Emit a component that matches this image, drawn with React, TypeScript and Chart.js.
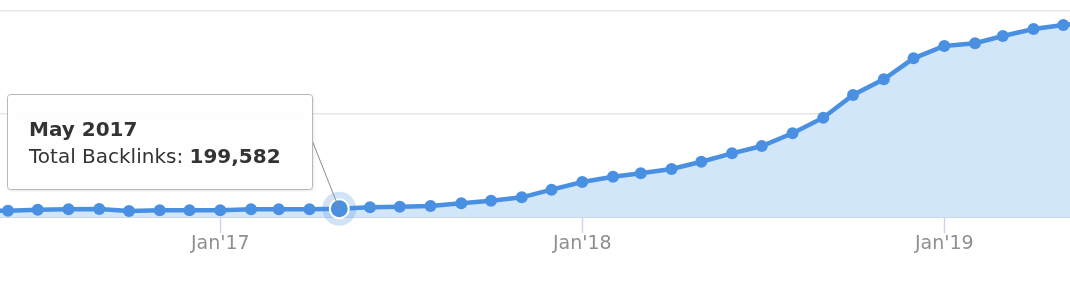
import React, { useEffect, useRef } from 'react';
import { Chart, registerables } from 'chart.js';

Chart.register(...registerables);

// ---- Data ----
const months = [
  '2016-05', '2016-06', '2016-07', '2016-08', '2016-09', '2016-10', '2016-11', '2016-12',
  '2017-01', '2017-02', '2017-03', '2017-04', '2017-05', '2017-06', '2017-07', '2017-08',
  '2017-09', '2017-10', '2017-11', '2017-12',
  '2018-01', '2018-02', '2018-03', '2018-04', '2018-05', '2018-06', '2018-07', '2018-08',
  '2018-09', '2018-10', '2018-11', '2018-12',
  '2019-01', '2019-02', '2019-03', '2019-04', '2019-05', '2019-06',
];

const backlinks = [
  150000, 153000, 177000, 187000, 194000, 146000, 163000, 163000,
  163000, 187000, 187000, 188000, 199582, 235000, 250000, 267000,
  333000, 396000, 478000, 663000,
  850000, 978000, 1061000, 1165000, 1342000, 1546000, 1723000, 2032000,
  2410000, 2961000, 3342000, 3852000,
  4150000, 4216000, 4393000, 4563000, 4660000, 4740000,
];

const tickMonths = ['2017-01', '2018-01', '2019-01'];
const tickLabels = ["Jan'17", "Jan'18", "Jan'19"];

const yGridValues = [0, 2500000, 5000000];

const seriesName = 'Total Backlinks';
const highlightMonth = '2017-05';
const monthNames = ['Jan', 'Feb', 'Mar', 'Apr', 'May', 'Jun', 'Jul', 'Aug', 'Sep', 'Oct', 'Nov', 'Dec'];

// ---- Helpers ----
const ORIGIN = Date.UTC(2016, 5, 1);
const dayOf = (m: string) => {
  const [y, mo] = m.split('-').map(Number);
  return (Date.UTC(y, mo - 1, 1) - ORIGIN) / 864e5;
};
const monthTitle = (m: string) => {
  const [y, mo] = m.split('-').map(Number);
  return `${monthNames[mo - 1]} ${y}`;
};

const LINE = '#4a90e2';
const FILL = '#d2e6fa';
const FONT = "'DejaVu Sans', 'Liberation Sans', sans-serif";

const highlightPlugin = {
  id: 'highlightTooltip',
  afterDatasetsDraw(chart: any) {
    const idx = months.indexOf(highlightMonth);
    const el = chart.getDatasetMeta(0).data[idx];
    if (!el) return;
    const ctx = chart.ctx as CanvasRenderingContext2D;
    ctx.save();
    ctx.beginPath();
    ctx.arc(el.x, el.y, 17, 0, Math.PI * 2);
    ctx.fillStyle = 'rgba(74,144,226,0.25)';
    ctx.fill();
    ctx.beginPath();
    ctx.arc(el.x, el.y, 9.5, 0, Math.PI * 2);
    ctx.fillStyle = LINE;
    ctx.fill();
    ctx.lineWidth = 2;
    ctx.strokeStyle = '#ffffff';
    ctx.stroke();
    ctx.restore();
  },
  afterDraw(chart: any) {
    const idx = months.indexOf(highlightMonth);
    const el = chart.getDatasetMeta(0).data[idx];
    if (!el) return;
    const ctx = chart.ctx as CanvasRenderingContext2D;
    const bx = 7.5, by = 94.5, bw = 305, bh = 95, r = 3;
    ctx.save();
    // connector
    ctx.beginPath();
    ctx.moveTo(bx + bw, by + 47);
    ctx.lineTo(el.x, el.y);
    ctx.lineWidth = 1;
    ctx.strokeStyle = '#8c8c8c';
    ctx.stroke();
    // box
    const path = () => {
      ctx.beginPath();
      ctx.moveTo(bx + r, by);
      ctx.lineTo(bx + bw - r, by);
      ctx.arcTo(bx + bw, by, bx + bw, by + r, r);
      ctx.lineTo(bx + bw, by + bh - r);
      ctx.arcTo(bx + bw, by + bh, bx + bw - r, by + bh, r);
      ctx.lineTo(bx + r, by + bh);
      ctx.arcTo(bx, by + bh, bx, by + bh - r, r);
      ctx.lineTo(bx, by + r);
      ctx.arcTo(bx, by, bx + r, by, r);
      ctx.closePath();
    };
    ctx.shadowColor = 'rgba(0,0,0,0.12)';
    ctx.shadowBlur = 3;
    ctx.shadowOffsetX = 1;
    ctx.shadowOffsetY = 1;
    path();
    ctx.fillStyle = 'rgba(255,255,255,0.97)';
    ctx.fill();
    ctx.shadowColor = 'transparent';
    ctx.lineWidth = 1;
    ctx.strokeStyle = '#b8b8b8';
    path();
    ctx.stroke();
    // text
    ctx.fillStyle = '#333333';
    ctx.textBaseline = 'alphabetic';
    ctx.textAlign = 'left';
    ctx.font = `bold 20px ${FONT}`;
    ctx.fillText(monthTitle(highlightMonth), 29, 136);
    ctx.font = `20px ${FONT}`;
    const label = `${seriesName}: `;
    ctx.fillText(label, 29, 163);
    const w = ctx.measureText(label).width;
    ctx.font = `bold 20px ${FONT}`;
    ctx.fillText(backlinks[idx].toLocaleString('en-US'), 29 + w, 163);
    ctx.restore();
  },
};

export default function App() {
  const ref = useRef<HTMLCanvasElement>(null);
  useEffect(() => {
    if (!ref.current) return;
    const chart = new Chart(ref.current, {
      type: 'line',
      data: {
        datasets: [
          {
            label: seriesName,
            data: months.map((m, i) => ({ x: dayOf(m), y: backlinks[i] })),
            borderColor: LINE,
            backgroundColor: FILL,
            fill: 'origin',
            borderWidth: 4.5,
            pointRadius: 6,
            pointBackgroundColor: LINE,
            pointBorderWidth: 0,
            tension: 0,
          },
        ],
      },
      options: {
        responsive: false,
        animation: false,
        devicePixelRatio: 1,
        layout: { autoPadding: false, padding: { top: 11, left: 0, right: 0, bottom: 0 } },
        plugins: { legend: { display: false }, tooltip: { enabled: false } },
        events: [],
        scales: {
          x: {
            type: 'linear',
            min: -8.07,
            max: 1070.75,
            afterBuildTicks: (scale: any) => {
              scale.ticks = tickMonths.map((m) => ({ value: dayOf(m) }));
            },
            afterFit: (scale: any) => {
              scale.height = 67;
            },
            ticks: {
              callback: (_v: any, i: number) => tickLabels[i],
              color: '#8f8f8f',
              font: { family: FONT, size: 19, lineHeight: 1 },
              padding: 2,
              maxRotation: 0,
              autoSkip: false,
            },
            grid: {
              drawOnChartArea: false,
              drawTicks: true,
              tickLength: 16,
              tickColor: '#ccd6eb',
              tickWidth: 1.5,
            },
            border: { display: true, color: '#ccd6eb', width: 2 },
          },
          y: {
            min: 0,
            max: 5000000,
            afterBuildTicks: (scale: any) => {
              scale.ticks = yGridValues.map((v) => ({ value: v }));
            },
            afterFit: (scale: any) => {
              scale.width = 0;
            },
            ticks: { display: false },
            grid: { color: '#e6e6e6', lineWidth: 1.5, drawTicks: false },
            border: { display: false },
          },
        },
      },
      plugins: [highlightPlugin],
    });
    return () => chart.destroy();
  }, []);
  return (
    <div style={{ position: 'absolute', left: 0, top: 0, width: 1070, height: 284 }}>
      <canvas ref={ref} width={1070} height={284} style={{ display: 'block', width: 1070, height: 284 }} />
    </div>
  );
}
